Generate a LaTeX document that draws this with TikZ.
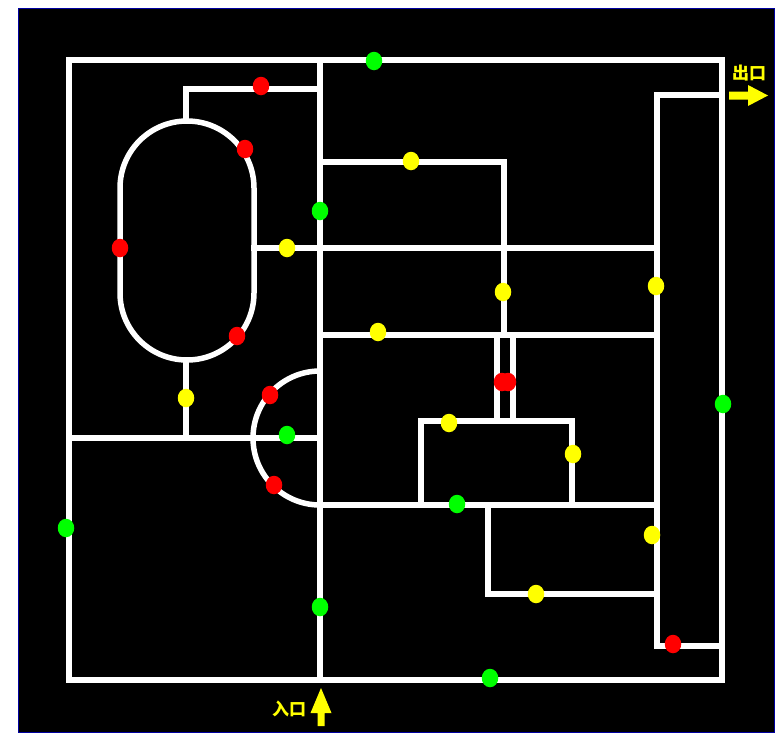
\documentclass[tikz,border=0pt]{standalone}
\usepackage{fontspec}
\usetikzlibrary{shapes.geometric}
\newfontfamily\cjk{Noto Sans CJK SC}
\begin{document}
\begin{tikzpicture}[x=1pt,y=-1pt,
  wall/.style={draw=white,line width=5.5pt,line cap=rect,line join=miter},
  dotg/.style={ellipse,fill={rgb,255:red,0;green,255;blue,0},inner sep=0pt,minimum width=16.5pt,minimum height=18.5pt},
  dotr/.style={ellipse,fill={rgb,255:red,255;green,0;blue,0},inner sep=0pt,minimum width=16.5pt,minimum height=18.5pt},
  doty/.style={ellipse,fill={rgb,255:red,255;green,255;blue,0},inner sep=0pt,minimum width=16.5pt,minimum height=18.5pt},
  lbl/.style={text={rgb,255:red,255;green,255;blue,0},font=\cjk\bfseries\fontsize{17}{17}\selectfont,inner sep=0pt},
  arr/.style={fill={rgb,255:red,255;green,255;blue,0}}]
\useasboundingbox[fill=white] (0,0) rectangle (782,737);
\filldraw[fill=black,draw={rgb,255:red,0;green,0;blue,160},line width=1pt] (18,8) rectangle (774,732);
% walls
\draw[wall] (69,60) rectangle (722,680);
\draw[wall] (320,60) -- (320,680);
\draw[wall] (186,120) -- (186,89) -- (320,89);
\draw[wall] (120,188) arc[start angle=180,end angle=0,radius=67pt] -- (254,293) arc[start angle=0,end angle=-180,radius=67pt] -- cycle;
\draw[wall] (186,360) -- (186,438);
\draw[wall] (69,438) -- (320,438);
\draw[wall,line cap=butt] (320,371) arc[start angle=90,end angle=270,radius=67pt];
\draw[wall] (320,505) -- (657,505);
\draw[wall] (254,248) -- (657,248);
\draw[wall] (320,162) -- (504,162) -- (504,335);
\draw[wall] (320,335) -- (657,335);
\draw[wall] (497,335) -- (497,420);
\draw[wall] (513,335) -- (513,420);
\draw[wall] (421,505) -- (421,421) -- (572,421) -- (572,505);
\draw[wall] (488,505) -- (488,594) -- (657,594);
\draw[wall] (722,95) -- (657,95) -- (657,646) -- (722,646);
% dots
\node[dotg] (g1) at (374,61) {};
\node[dotg] (g2) at (320,211) {};
\node[dotg] (g3) at (287,435) {};
\node[dotg] (g4) at (66,528) {};
\node[dotg] (g5) at (320,607) {};
\node[dotg] (g6) at (490,678) {};
\node[dotg] (g7) at (723,404) {};
\node[dotg] (g8) at (457,504) {};
\node[dotr] (r1) at (261,86) {};
\node[dotr] (r2) at (245,149) {};
\node[dotr] (r3) at (120,248) {};
\node[dotr] (r4) at (237,336) {};
\node[dotr] (r5) at (270,395) {};
\node[dotr] (r6) at (274,485) {};
\node[dotr] (r7) at (502,382) {};
\node[dotr] (r8) at (508,382) {};
\node[dotr] (r9) at (673,644) {};
\node[doty] (y1) at (411,161) {};
\node[doty] (y2) at (287,248) {};
\node[doty] (y3) at (503,292) {};
\node[doty] (y4) at (378,332) {};
\node[doty] (y5) at (186,398) {};
\node[doty] (y6) at (449,423) {};
\node[doty] (y7) at (573,454) {};
\node[doty] (y8) at (656,286) {};
\node[doty] (y9) at (652,535) {};
\node[doty] (y10) at (536,594) {};
% exit and entry
\node[lbl] (exit) at (749,73) {出口};
\fill[arr] (729,91.5) -- (748,91.5) -- (748,85) -- (768,95.5) -- (748,106) -- (748,99.5) -- (729,99.5) -- cycle;
\node[lbl] (entry) at (289,709) {入口};
\fill[arr] (321,688) -- (331.5,713) -- (324.5,713) -- (324.5,726) -- (317.5,726) -- (317.5,713) -- (310.5,713) -- cycle;
\end{tikzpicture}
\end{document}
